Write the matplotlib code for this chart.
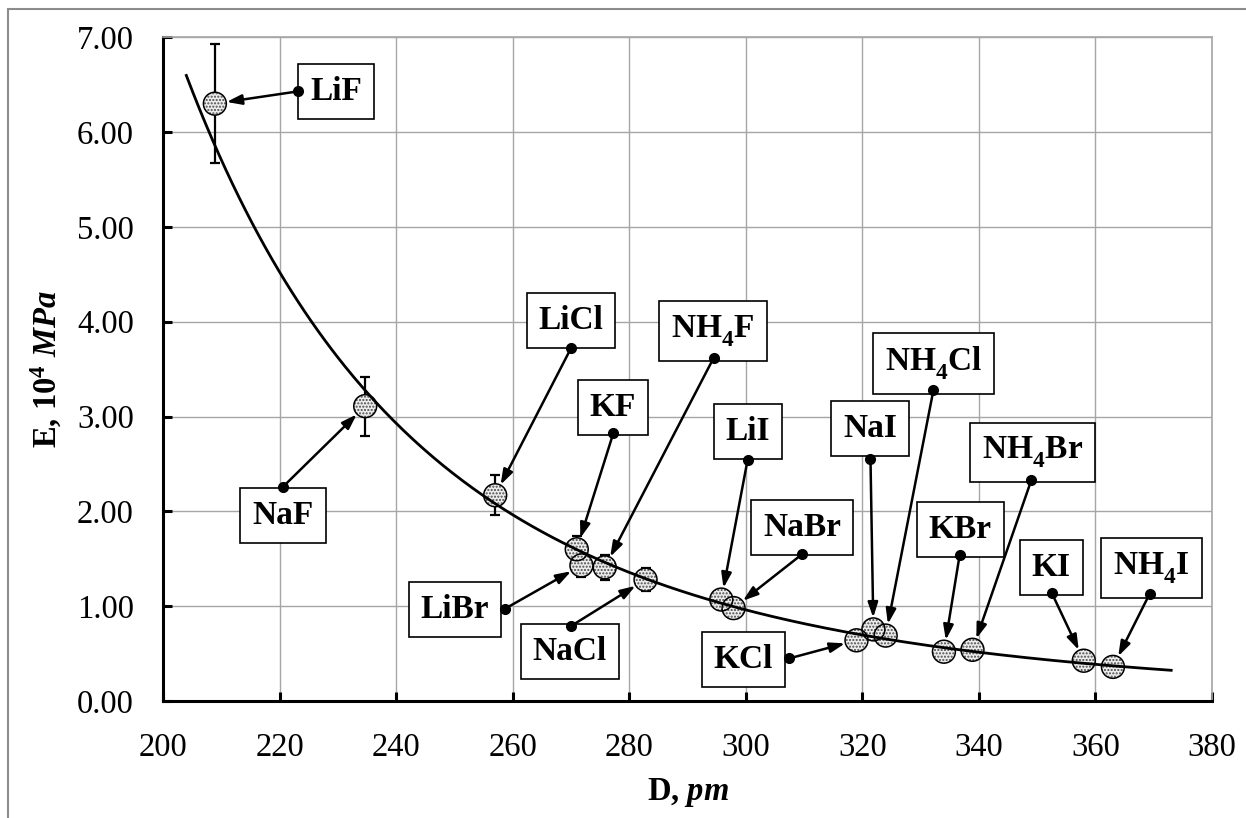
import numpy as np
import matplotlib
matplotlib.use('Agg')
import matplotlib.pyplot as plt
from matplotlib.patches import Rectangle
import matplotlib._mathtext as mt

plt.rcParams['font.family'] = ['Liberation Serif', 'DejaVu Serif']
plt.rcParams['mathtext.fontset'] = 'custom'
plt.rcParams['mathtext.rm'] = 'Liberation Serif:bold'
plt.rcParams['mathtext.bf'] = 'Liberation Serif:bold'
plt.rcParams['mathtext.it'] = 'Liberation Serif:italic:bold'
plt.rcParams['mathtext.default'] = 'bf'
# deeper subscripts, like the chemical formulas in the original
mt.FontConstantsBase.sub1 = 0.6

# salts, lattice distance D (pm), modulus E (10^4 MPa), error
salts = ['LiF', 'NaF', 'LiCl', 'KF', 'LiBr', 'N$H_4$F', 'NaCl', 'LiI', 'NaBr',
         'KCl', 'NaI', 'N$H_4$Cl', 'KBr', 'N$H_4$Br', 'KI', 'N$H_4$I']
D = [208.9, 234.7, 257.0, 271.0, 271.8, 275.8, 282.8, 295.8, 297.9,
     319.0, 321.9, 324.0, 334.0, 338.9, 358.0, 363.0]
E = [6.30, 3.11, 2.17, 1.60, 1.43, 1.41, 1.28, 1.07, 0.98,
     0.64, 0.755, 0.69, 0.52, 0.54, 0.425, 0.36]
err = [0.63, 0.31, 0.21, 0.14, 0.12, 0.13, 0.12, 0.10, 0.10,
       0.06, 0.07, 0.07, 0.05, 0.05, 0.04, 0.04]

# label box centre and arrow start (data coords)
box_xy = [(229.7, 6.43), (220.6, 1.96), (270.0, 4.01), (277.2, 3.10), (250.1, 0.97),
          (294.4, 3.90), (269.8, 0.52), (300.4, 2.84), (309.7, 1.83), (299.6, 0.44),
          (321.3, 2.87), (332.2, 3.56), (336.8, 1.81), (349.2, 2.62), (352.4, 1.41),
          (369.6, 1.40)]
dot_xy = [(223.2, 6.43), (220.6, 2.26), (270.0, 3.72), (277.3, 2.83), (258.6, 0.97),
          (294.5, 3.62), (270.0, 0.79), (300.3, 2.54), (309.7, 1.55), (307.5, 0.45),
          (321.4, 2.55), (332.2, 3.28), (336.7, 1.54), (349.0, 2.33), (352.5, 1.14),
          (369.3, 1.13)]

fig = plt.figure(figsize=(12.46, 8.18), dpi=100)
ax = fig.add_axes([163/1246, 1-701/818, (1212-163)/1246, (701-37.3)/818])

# power trendline
b, loga = np.polyfit(np.log(D), np.log(E), 1)
xf = np.linspace(204, 373, 300)
ax.plot(xf, np.exp(loga) * xf**b, color='black', lw=2.0, zorder=6)

ax.errorbar(D, E, yerr=err, fmt='none', ecolor='black', elinewidth=1.6,
            capsize=3.5, capthick=1.6, zorder=3)
ax.scatter(D, E, s=16.5**2, facecolor='#ececec', edgecolor='#4a4a4a',
           hatch='.....', linewidths=0, zorder=4)
ax.scatter(D, E, s=16.5**2, facecolor='none', edgecolor='black',
           linewidths=1.1, zorder=5)

for (px, py), (cx, cy), (dx, dy), lab in zip(zip(D, E), box_xy, dot_xy, salts):
    ax.annotate('', xy=(px, py), xytext=(dx, dy),
                arrowprops=dict(arrowstyle='-|>,head_length=0.6,head_width=0.2',
                                color='black', lw=1.8, shrinkA=0, shrinkB=8.5,
                                mutation_scale=15), zorder=7)
    ax.text(cx, cy, lab, ha='center', va='center', fontsize=24, fontweight='bold',
            bbox=dict(boxstyle='square,pad=0.36', fc='white', ec='black', lw=1.2),
            zorder=8)
    ax.plot(dx, dy, 'o', ms=7, color='black', zorder=9)

ax.set_xlim(200, 380)
ax.set_ylim(0, 7)
ax.set_xticks(np.arange(200, 381, 20))
ax.set_yticks(np.arange(0, 7.1, 1))
ax.yaxis.set_major_formatter(matplotlib.ticker.FormatStrFormatter('%.2f'))
ax.grid(True, color='#a6a6a6', lw=1.0)
ax.set_axisbelow(True)
ax.tick_params(direction='in', length=6.5, width=2.2, labelsize=23.5)
ax.tick_params(axis='x', pad=23)
ax.tick_params(axis='y', pad=21)
for s in ['left', 'bottom']:
    ax.spines[s].set_linewidth(2.2)
for s in ['top', 'right']:
    ax.spines[s].set_color('#a6a6a6')
    ax.spines[s].set_linewidth(1.2)

ax.set_xlabel('D, $\\mathit{pm}$', fontsize=23.5, fontweight='bold', labelpad=9)
ax.set_ylabel('E, 10$^4$ $\\mathit{MPa}$', fontsize=23.5, fontweight='bold', labelpad=9)

fig.add_artist(Rectangle((8/1246, -0.5), 2, 0.5 + 1 - 9.3/818, transform=fig.transFigure,
                         fill=False, ec='#8c8c8c', lw=1.5))

fig.savefig('out.png', dpi=100)
